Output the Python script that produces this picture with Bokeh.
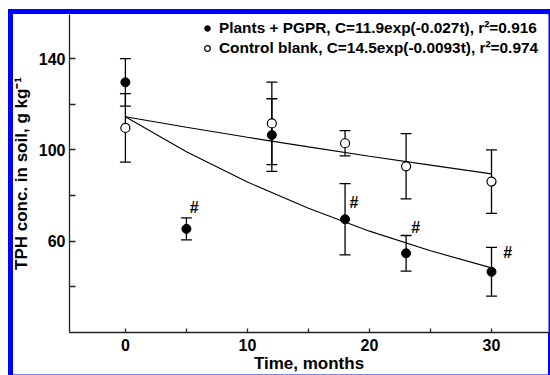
from bokeh.plotting import figure
from bokeh.models import (ColumnDataSource, Whisker, TeeHead, FixedTicker,
                          Legend, LegendItem, Range1d)
from bokeh.core.properties import value
from bokeh.embed import file_html
from bokeh.resources import INLINE

# ---- data ----
plants_t = [0, 5, 12, 18, 23, 30]
plants_mean = [129.6, 65.4, 106.5, 69.6, 54.7, 46.6]
plants_err = [10.4, 4.8, 15.9, 15.6, 7.8, 10.7]

control_t = [0, 12, 18, 23, 30]
control_mean = [109.6, 111.6, 102.9, 92.8, 86.1]
control_err = [15.0, 18.1, 5.5, 14.3, 13.9]

fit_t = [0, 5, 10, 15, 20, 25, 30]
plants_fit = [114.5, 99.2, 85.9, 74.4, 64.4, 55.8, 48.3]
control_fit = [114.5, 109.9, 105.5, 101.3, 97.2, 93.3, 89.5]

hash_x = [5.64, 18.72, 23.79, 31.32]
hash_y = [74.8, 76.8, 65.8, 55.0]

x_ticks = [0, 5, 10, 15, 20, 25, 30]
x_labels = {0: "0", 5: "", 10: "10", 15: "", 20: "20", 25: "", 30: "30"}
y_ticks = [40, 60, 80, 100, 120, 140]
y_labels = {40: "", 60: "60", 80: "", 100: "100", 120: "", 140: "140"}

legend_plants = "Plants + PGPR, C=11.9exp(-0.027t), r\u00b2=0.916"
legend_control = "Control blank, C=14.5exp(-0.0093t), r\u00b2=0.974"
x_title = "Time, months"
y_title = "TPH conc. in soil, g kg\u207b\u00b9"

FONT = "Liberation Sans"
X0, X1 = -4.58, 34.67
Y0, Y1 = 20, 159.3

p = figure(width=542, height=366, output_backend="svg", toolbar_location=None,
           x_range=Range1d(X0, X1), y_range=Range1d(Y0, Y1),
           min_border_left=60, min_border_right=2, min_border_top=5,
           min_border_bottom=43)
p.styles = {
    "margin-left": "8px",
    "margin-top": "9px",
    "box-shadow": ("inset 5px 5px 0 0 #0000ff, inset -2px 0 0 0 #0000ff, "
                   "inset 0 -1px 0 0 #8080ff"),
}
p.outline_line_color = None
p.grid.visible = False
p.background_fill_color = "white"
p.border_fill_alpha = 0

for ax in (p.xaxis[0], p.yaxis[0]):
    ax.axis_line_color = "#222222"
    ax.axis_line_width = 1.3
    ax.major_tick_line_color = "#222222"
    ax.major_tick_line_width = 1.3
    ax.minor_tick_line_color = None
    ax.major_tick_out = 0
    ax.major_label_text_font = FONT
    ax.major_label_text_font_style = "bold"
    ax.major_label_text_font_size = "16px"
    ax.major_label_text_color = "black"
    ax.axis_label_text_font = FONT
    ax.axis_label_text_font_style = "bold"
    ax.axis_label_text_font_size = "17px"
    ax.axis_label_text_color = "black"

p.xaxis.ticker = FixedTicker(ticks=x_ticks)
p.xaxis.major_label_overrides = x_labels
p.xaxis.major_tick_in = 4
p.xaxis.major_label_standoff = 6
p.xaxis.axis_label = x_title
p.xaxis.axis_label_standoff = 0
p.yaxis.ticker = FixedTicker(ticks=y_ticks)
p.yaxis.major_label_overrides = y_labels
p.yaxis.major_tick_in = 6
p.yaxis.major_label_standoff = 4
p.yaxis.axis_label = y_title
p.yaxis.axis_label_standoff = 5

# fitted curves
p.line(fit_t, plants_fit, line_color="black", line_width=1.1)
p.line(fit_t, control_fit, line_color="black", line_width=1.1)

ps = ColumnDataSource(dict(t=plants_t, m=plants_mean,
                           lo=[m - e for m, e in zip(plants_mean, plants_err)],
                           hi=[m + e for m, e in zip(plants_mean, plants_err)]))
cs = ColumnDataSource(dict(t=control_t, m=control_mean,
                           lo=[m - e for m, e in zip(control_mean, control_err)],
                           hi=[m + e for m, e in zip(control_mean, control_err)]))

for src in (ps, cs):
    w = Whisker(source=src, base="t", lower="lo", upper="hi", line_color="black",
                line_width=1.3,
                upper_head=TeeHead(size=11, line_color="black", line_width=1.3),
                lower_head=TeeHead(size=11, line_color="black", line_width=1.3))
    p.add_layout(w)

r_c = p.scatter("t", "m", source=cs, size=9, fill_color="white", line_color="black",
                line_width=1.2)
r_p = p.scatter("t", "m", source=ps, size=9, fill_color="black", line_color="black")

p.text(hash_x, hash_y, text=["#"] * len(hash_x), text_font=value(FONT),
       text_font_style="bold", text_font_size="16px", text_align="center",
       text_baseline="middle", text_color="black")

legend = Legend(items=[LegendItem(label=legend_plants, renderers=[r_p]),
                       LegendItem(label=legend_control, renderers=[r_c])],
                location=(131, 275), margin=0, padding=0, spacing=2,
                glyph_width=14, glyph_height=16, label_height=16,
                label_standoff=5,
                label_text_font=FONT, label_text_font_style="bold",
                label_text_font_size="15.4px", label_text_color="black",
                border_line_color=None, background_fill_alpha=0)
p.add_layout(legend)

open("out.html", "w").write(file_html(p, INLINE))
